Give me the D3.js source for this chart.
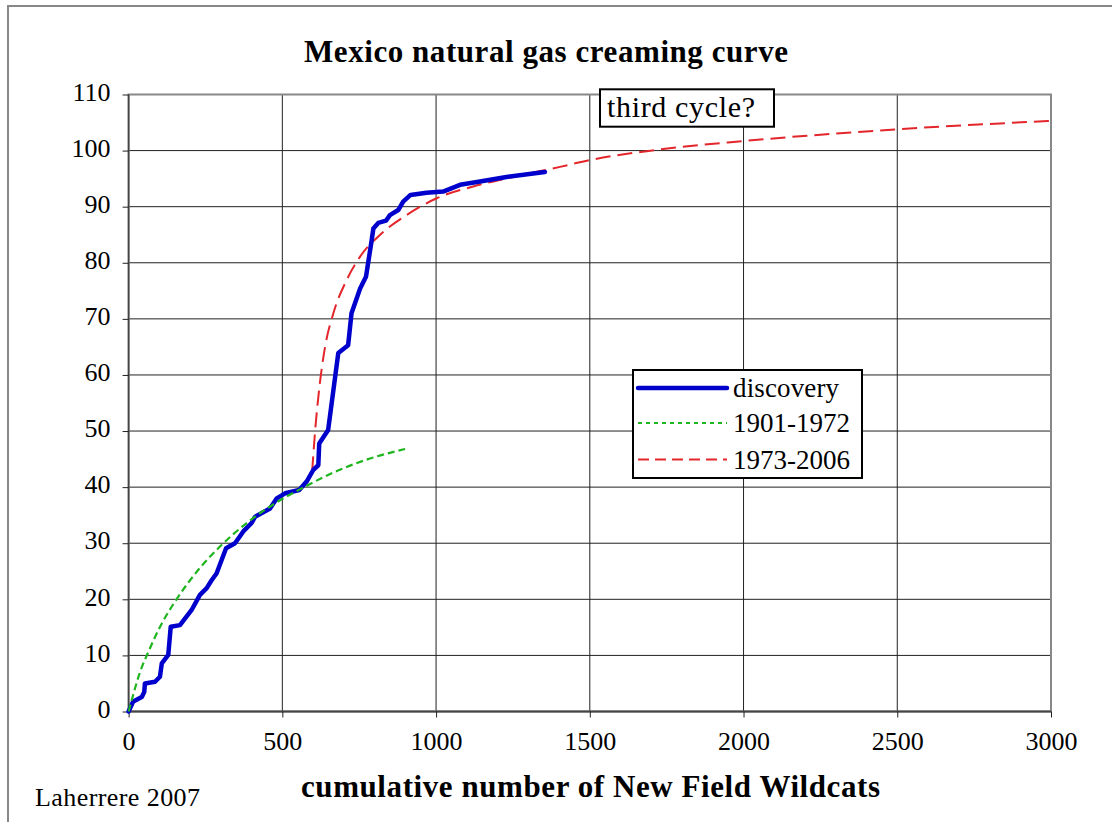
<!DOCTYPE html>
<html lang="en">
<head>
<meta charset="UTF-8">
<script src="https://d3js.org/d3.v7.min.js"></script>
<style>
    body { margin: 0; background: #fff; }
    svg text { font-family: "Liberation Serif", "Times New Roman", serif; fill: #000; }
    .grid line { stroke: #222; stroke-width: 1; }
    .axis path { display: none; }
    .axis line { stroke: #222; stroke-width: 1; }
    .axis text { font-size: 26px; }
</style>
</head>
<body>
<svg id="chart" width="1112" height="822"></svg>
<script>
    // discovery (cumulative wildcats vs cumulative gas)
    const discX = [0, 15, 43, 51, 53, 86, 102, 108, 129, 137, 167, 205, 232, 254, 270, 286, 317, 346, 373, 400, 411, 460, 482, 509, 555, 579, 601, 617, 620, 649, 682, 714, 725, 753, 772, 790, 796, 812, 837, 850, 877, 893, 917, 969, 1023, 1078, 1143, 1229, 1354];
    const discY = [0, 1.8, 2.6, 3.5, 5.0, 5.3, 6.2, 8.6, 10.1, 15.1, 15.4, 18.1, 20.8, 22.0, 23.4, 24.6, 29.1, 30.0, 32.1, 33.6, 34.7, 36.2, 38.0, 38.9, 39.5, 41.0, 43.1, 43.9, 47.8, 50.2, 63.9, 65.3, 71.0, 75.4, 77.5, 83.8, 86.1, 87.1, 87.5, 88.5, 89.4, 90.9, 92.1, 92.5, 92.7, 93.9, 94.5, 95.3, 96.2];

    // 1901-1972 cycle
    const cycle1X = [0, 15, 37, 64, 108, 156, 232, 297, 384, 482, 557, 666, 774, 899];
    const cycle1Y = [0, 3.0, 7.0, 10.6, 15.7, 20.0, 25.6, 29.4, 33.6, 37.3, 39.6, 42.6, 44.9, 46.8];

    // 1973-2006 cycle
    const cycle2X = [597, 606, 622, 639, 666, 709, 753, 818, 904, 1002, 1121, 1251, 1403, 1500, 1728, 2000, 2501, 3000];
    const cycle2Y = [42.8, 49.6, 58.5, 65.0, 71.0, 76.9, 81.1, 85.0, 88.5, 91.5, 93.6, 95.3, 97.1, 98.3, 100.2, 101.7, 103.8, 105.3];

    const xTicks = [0, 500, 1000, 1500, 2000, 2500, 3000];
    const yTicks = [0, 10, 20, 30, 40, 50, 60, 70, 80, 90, 100, 110];

    const legendNames = ["discovery", "1901-1972", "1973-2006"];

    const svg = d3.select("#chart");

    // outer frame
    svg.append("rect")
        .attr("x", 8).attr("y", 6)
        .attr("width", 1120).attr("height", 830)
        .attr("fill", "none")
        .attr("stroke", "#888")
        .attr("stroke-width", 2);

    const x = d3.scaleLinear().domain([0, 3000]).range([128.6, 1051]);
    const y = d3.scaleLinear().domain([0, 110]).range([711.5, 94.5]);

    //grid
    const grid = svg.append("g").attr("class", "grid");
    grid.selectAll("line.h").data(yTicks).join("line")
        .attr("class", "h")
        .attr("x1", x(0)).attr("x2", x(3000))
        .attr("y1", d => y(d)).attr("y2", d => y(d));
    grid.selectAll("line.v").data(xTicks).join("line")
        .attr("class", "v")
        .attr("x1", d => x(d)).attr("x2", d => x(d))
        .attr("y1", y(0)).attr("y2", y(110));

    // plot frame
    svg.append("rect")
        .attr("x", x(0)).attr("y", y(110))
        .attr("width", x(3000) - x(0)).attr("height", y(0) - y(110))
        .attr("fill", "none")
        .attr("stroke", "#888")
        .attr("stroke-width", 2);
    svg.append("line")
        .attr("x1", x(0)).attr("x2", x(3000))
        .attr("y1", y(0)).attr("y2", y(0))
        .attr("stroke", "#444").attr("stroke-width", 2);
    svg.append("line")
        .attr("x1", x(0)).attr("x2", x(0))
        .attr("y1", y(0)).attr("y2", y(110))
        .attr("stroke", "#444").attr("stroke-width", 1.5);

    //axes
    svg.append("g").attr("class", "axis")
        .attr("transform", `translate(0,${y(0)})`)
        .call(d3.axisBottom(x).tickValues(xTicks).tickSize(6).tickPadding(14).tickFormat(d3.format("d")));
    svg.append("g").attr("class", "axis")
        .attr("transform", `translate(${x(0)},0)`)
        .call(d3.axisLeft(y).tickValues(yTicks).tickSize(6).tickPadding(12).tickFormat(d3.format("d")))
        .selectAll("text").attr("dy", "0.22em");

    const line = (xs, ys, curve) => d3.line()
        .x((d, i) => x(xs[i]))
        .y((d, i) => y(ys[i]))
        .curve(curve)(xs);

    // curves
    svg.append("path")
        .attr("d", line(cycle2X, cycle2Y, d3.curveMonotoneX))
        .attr("fill", "none")
        .attr("stroke", "#e3262b")
        .attr("stroke-width", 2)
        .attr("stroke-dasharray", "15,7");
    svg.append("path")
        .attr("d", line(discX, discY, d3.curveLinear))
        .attr("fill", "none")
        .attr("stroke", "#0000cc")
        .attr("stroke-width", 4.5)
        .attr("stroke-linejoin", "round")
        .attr("stroke-linecap", "round");
    svg.append("path")
        .attr("d", line(cycle1X, cycle1Y, d3.curveMonotoneX))
        .attr("fill", "none")
        .attr("stroke", "#1fb51f")
        .attr("stroke-width", 2.2)
        .attr("stroke-dasharray", "7,4");

    // third cycle? label
    svg.append("rect")
        .attr("x", 600).attr("y", 89.3)
        .attr("width", 174).attr("height", 37.4)
        .attr("fill", "#fff").attr("stroke", "#000").attr("stroke-width", 2);
    svg.append("text")
        .attr("x", 607).attr("y", 116.7)
        .attr("textLength", 148)
        .style("font-size", "30px")
        .text("third cycle?");

    //legend
    const legend = svg.append("g");
    legend.append("rect")
        .attr("x", 633).attr("y", 370)
        .attr("width", 229).attr("height", 108)
        .attr("fill", "#fff").attr("stroke", "#000").attr("stroke-width", 2);
    const legendStyle = [
        {color: "#0000cc", width: 4.5, dash: null},
        {color: "#1fb51f", width: 2, dash: "4,4"},
        {color: "#e3262b", width: 2, dash: "11,6"}
    ];
    const legendY = [388, 423, 459.5];
    const legendLen = [106, 117, 117];
    legendNames.forEach((name, i) => {
        legend.append("line")
            .attr("x1", 638).attr("x2", 727)
            .attr("y1", legendY[i]).attr("y2", legendY[i])
            .attr("stroke", legendStyle[i].color)
            .attr("stroke-width", legendStyle[i].width)
            .attr("stroke-linecap", i == 0 ? "round" : "butt")
            .attr("stroke-dasharray", legendStyle[i].dash);
        legend.append("text")
            .attr("x", 733).attr("y", legendY[i] + 9)
            .attr("textLength", legendLen[i])
            .style("font-size", "27px")
            .text(name);
    });

    // titles
    svg.append("text")
        .attr("x", 304).attr("y", 62)
        .attr("textLength", 484)
        .style("font-size", "31px").style("font-weight", "bold")
        .text("Mexico natural gas creaming curve");
    svg.append("text")
        .attr("x", 301).attr("y", 797)
        .attr("textLength", 579)
        .style("font-size", "31px").style("font-weight", "bold")
        .text("cumulative number of New Field Wildcats");
    svg.append("text")
        .attr("x", 35).attr("y", 806)
        .attr("textLength", 165)
        .style("font-size", "26px")
        .text("Laherrere 2007");
</script>
</body>
</html>
